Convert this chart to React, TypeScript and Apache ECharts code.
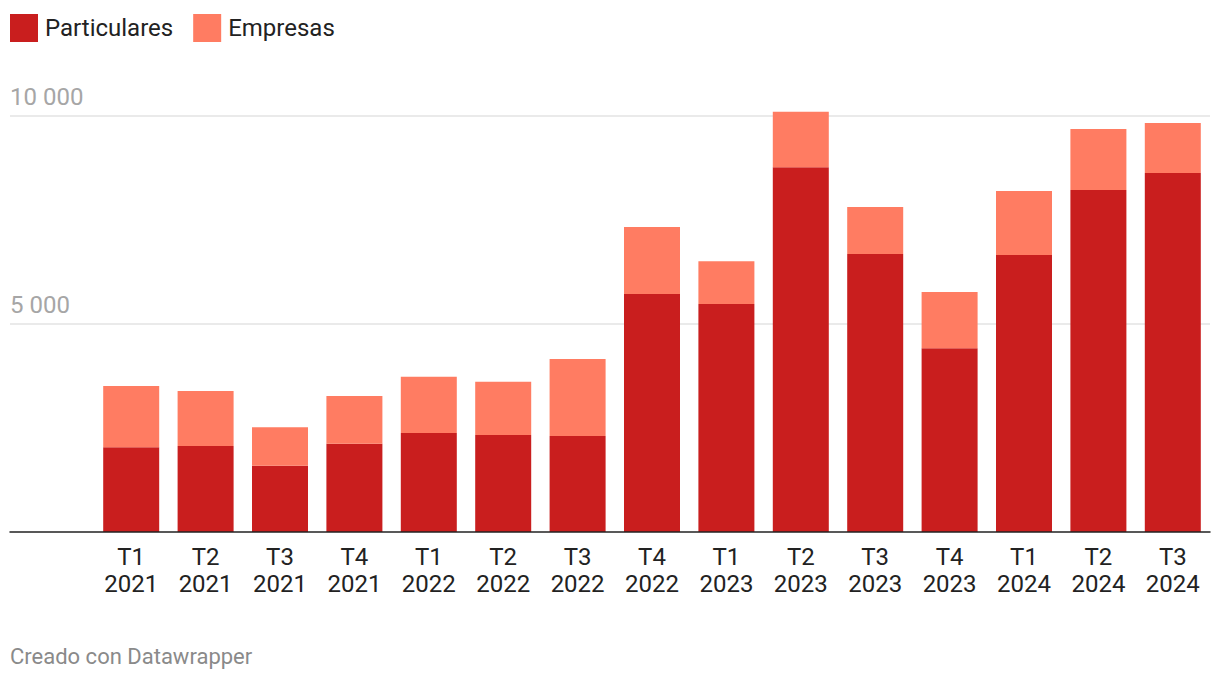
import React, { useEffect, useRef } from "react";
import * as echarts from "echarts";

const quarters = ["T1", "T2", "T3", "T4", "T1", "T2", "T3", "T4", "T1", "T2", "T3", "T4", "T1", "T2", "T3"];
const years = ["2021", "2021", "2021", "2021", "2022", "2022", "2022", "2022", "2023", "2023", "2023", "2023", "2024", "2024", "2024"];
const particulares = [2040, 2070, 1590, 2120, 2380, 2330, 2310, 5720, 5480, 8770, 6680, 4420, 6660, 8220, 8630];
const empresas = [1470, 1320, 930, 1150, 1350, 1280, 1850, 1610, 1030, 1330, 1130, 1350, 1540, 1470, 1200];
const yTickValues = [5000, 10000];
const yTickLabels = ["5 000", "10 000"];
const seriesNames = ["Particulares", "Empresas"];
const colors = ["#c91e1e", "#ff7c62"];
const footer = "Creado con Datawrapper";

const FONT = "Roboto, 'Noto Sans', sans-serif";

export default function App() {
  const ref = useRef<HTMLDivElement>(null);
  useEffect(() => {
    document.body.style.margin = "0";
    if (!ref.current) return;
    const chart = echarts.init(ref.current, null, { renderer: "svg" });
    const categories = quarters.map((q, i) => `${q}\n${years[i]}`);
    const gridTop = 95.2;
    const gridHeight = 436.8;
    const yMax = 10500;
    chart.setOption({
      animation: false,
      backgroundColor: "#ffffff",
      textStyle: { fontFamily: FONT },
      legend: {
        left: 10,
        top: 14,
        padding: 0,
        itemWidth: 28,
        itemHeight: 28,
        itemGap: 20,
        icon: "rect",
        data: seriesNames,
        textStyle: { fontSize: 24, color: "#222222", fontFamily: FONT, padding: [0, 0, 0, 2] },
      },
      grid: [
        { left: 10, right: 10, top: gridTop, height: gridHeight },
        { left: 94, right: 10, top: gridTop, height: gridHeight },
      ],
      xAxis: [
        {
          gridIndex: 0,
          type: "category",
          data: [""],
          axisLine: { show: true, lineStyle: { color: "#222222", width: 1.5 } },
          axisTick: { show: false },
          axisLabel: { show: false },
          z: 10,
        },
        {
          gridIndex: 1,
          type: "category",
          data: categories,
          axisLine: { show: false },
          axisTick: { show: false },
          axisLabel: {
            fontSize: 24,
            color: "#222222",
            fontFamily: FONT,
            lineHeight: 27,
            margin: 11,
            interval: 0,
          },
        },
      ],
      yAxis: [
        {
          gridIndex: 0,
          type: "value",
          min: 0,
          max: yMax,
          interval: 5000,
          axisLine: { show: false },
          axisTick: { show: false },
          splitLine: { show: true, showMinLine: false, showMaxLine: false, lineStyle: { color: "#e3e3e3", width: 1.5 } },
          axisLabel: {
            inside: true,
            margin: 0,
            verticalAlign: "bottom",
            fontSize: 24,
            color: "#a6a6a6",
            fontFamily: FONT,
            padding: [0, 0, 7, 0],
            showMaxLabel: false,
            formatter: (v: number) => {
              const idx = yTickValues.indexOf(v);
              return idx >= 0 ? yTickLabels[idx] : "";
            },
          },
        },
        {
          gridIndex: 1,
          type: "value",
          min: 0,
          max: yMax,
          interval: 5000,
          show: false,
          splitLine: { show: false },
        },
      ],
      series: seriesNames.map((name, si) => ({
        name,
        type: "bar",
        stack: "total",
        xAxisIndex: 1,
        yAxisIndex: 1,
        barWidth: 56,
        itemStyle: { color: colors[si] },
        data: si === 0 ? particulares : empresas,
      })),
      graphic: [
        {
          type: "text",
          left: 10,
          top: 645,
          style: { text: footer, fontSize: 22, fill: "#8a8a8a", fontFamily: FONT },
        },
      ],
    });
    return () => chart.dispose();
  }, []);
  return <div ref={ref} style={{ width: 1220, height: 680 }} />;
}
